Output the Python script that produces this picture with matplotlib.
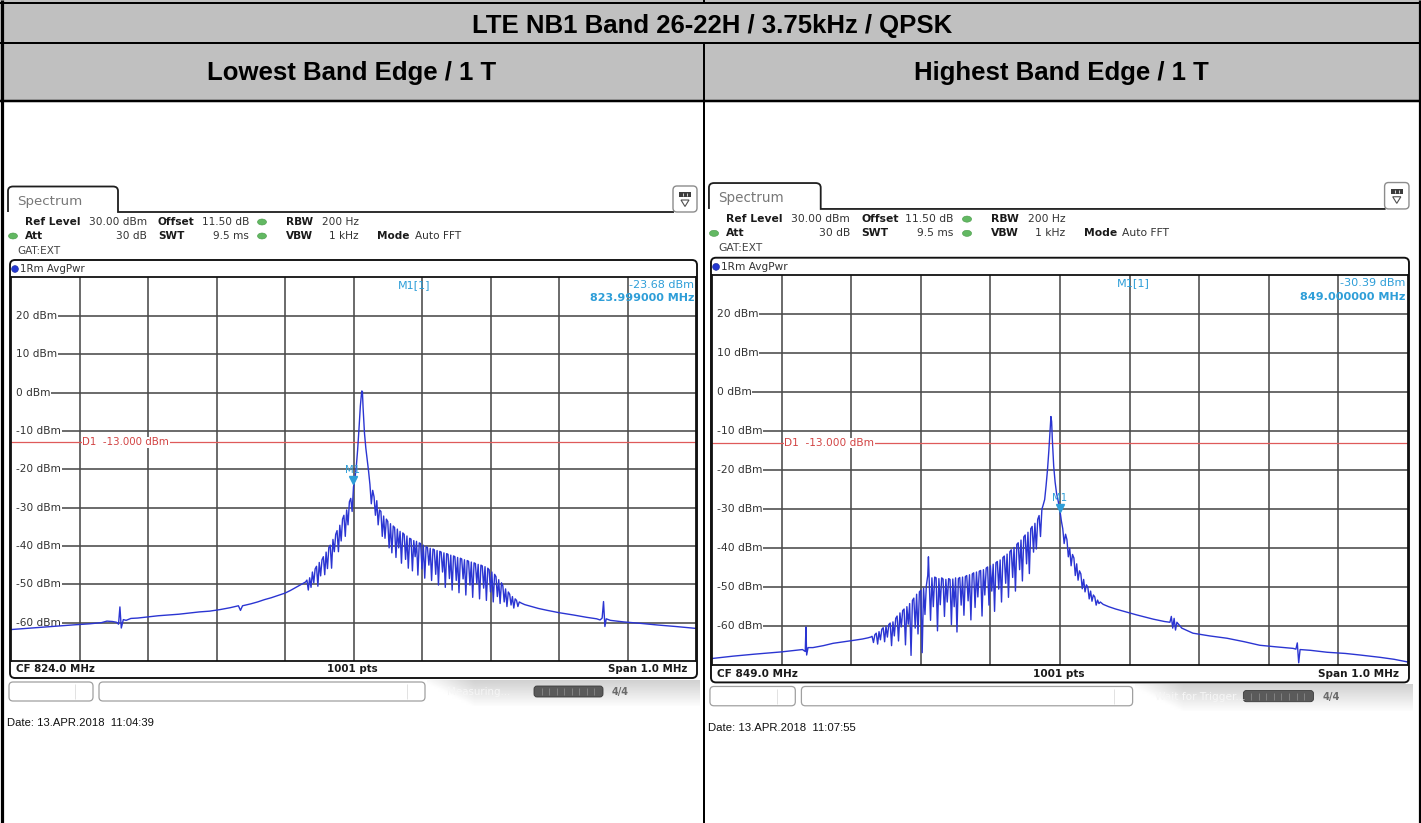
import numpy as np
import matplotlib
matplotlib.use("Agg")
import matplotlib.pyplot as plt
from matplotlib.patches import FancyBboxPatch, Rectangle, Ellipse, PathPatch, Polygon, Circle
from matplotlib.path import Path
import matplotlib.transforms as mtransforms

# ---------------- data ----------------
TITLE = "LTE NB1 Band 26-22H / 3.75kHz / QPSK"
PANEL_TITLES = ["Lowest Band Edge / 1 T", "Highest Band Edge / 1 T"]
CENTER_MHZ = [824.0, 849.0]
SPAN_MHZ = 1.0
N_POINTS = 1001
REF_LEVEL_DBM = 30.00
OFFSET_DB = 11.50
RBW_TXT = "200 Hz"
VBW_TXT = "1 kHz"
ATT_TXT = "30 dB"
SWT_TXT = "9.5 ms"
DISPLAY_LINE_DBM = -13.0
MARKER_MHZ = [823.999, 849.000]
MARKER_DBM = [-23.68, -30.39]
DATES = ["13.APR.2018  11:04:39", "13.APR.2018  11:07:55"]
STATUS = ["Measuring...", "Wait for Trigger..."]
Y_TICKS = [20, 10, 0, -10, -20, -30, -40, -50, -60]
Y_MIN, Y_MAX = -70, 30

# trace of the lowest band edge plot (offset from CF in kHz, level in dBm)
LOW_KHZ = [-500, -470, -440, -410, -385, -368, -360, -352, -346, -343, -341, -339, -336, -332,
           -325, -315, -300, -285, -270, -255, -240, -225, -210, -195, -180, -168, -165, -162,
           -150, -140, -130, -120, -110, -100, -92, -84, -76,
           -70, -68, -66, -64, -62, -60, -58, -56, -54, -52, -50, -48, -46, -44, -42, -40, -38,
           -36, -34, -32, -30, -28, -26, -24, -22, -20, -18, -16, -14, -12, -10, -8, -6, -4, -2,
           0, 2, 4, 6, 8, 10, 12, 13, 14, 16, 18, 20,
           22, 24, 26, 28, 30, 32, 34, 36, 38, 40, 42, 44, 46, 48, 50, 52, 54, 56, 58, 60, 62,
           64, 66, 68, 70, 72, 74, 76, 78, 80, 82, 84, 86, 88, 90, 92, 94, 96, 98, 100, 102, 104,
           106, 108, 110, 112, 114, 116, 118, 120, 122, 124, 126, 128, 130, 132, 134, 136, 138,
           140, 142, 144, 146, 148, 150, 152, 154, 156, 158, 160, 162, 164, 166, 168, 170, 172,
           174, 176, 178, 180, 182, 184, 186, 188, 190, 192, 194, 196, 198, 200, 202, 204, 206,
           208, 210, 212, 214, 216, 218, 220, 222, 224, 226, 228, 230, 232, 234, 236, 238, 240,
           242, 245, 250, 260, 270, 283, 300, 321, 340, 355, 360, 363, 365, 367, 369, 375, 394,
           420, 443, 470, 500]
LOW_DBM = [-61.8, -61.4, -61.0, -60.6, -60.3, -60.0, -59.6, -59.7, -59.9, -60.4, -55.9, -61.4,
           -59.2, -59.4, -58.9, -58.8, -58.5, -58.2, -58.0, -57.8, -57.5, -57.2, -57.0, -56.6,
           -56.1, -55.6, -56.8, -55.6, -55.1, -54.6, -54.0, -53.5, -52.9, -52.3, -51.6, -50.8,
           -50.0,
           -49.4, -48.9, -51.5, -48.3, -50.8, -46.8, -49.6, -46.0, -45.3, -50.5, -44.3, -47.8,
           -43.6, -42.8, -47.5, -41.6, -45.9, -40.4, -39.8, -45.8, -38.3, -41.5, -37.0, -36.0,
           -41.5, -34.6, -38.7, -33.0, -32.0, -37.5, -30.6, -34.5, -28.5, -27.6, -31.0,
           -24.6, -22.5, -19.5, -15.0, -9.5, -3.5, 0.4, 0.3, -4.0, -10.5, -14.5, -17.5,
           -20.5, -24.0, -29.0, -25.5, -27.2, -32.0, -28.2, -34.5, -30.6, -31.0, -37.5, -32.2,
           -38.0, -33.0, -33.6, -40.5, -34.2, -41.8, -34.8, -35.2, -43.0, -35.6, -40.5, -36.2,
           -44.5, -36.6, -37.0, -43.5, -37.4, -45.8, -38.0, -38.2, -46.5, -38.6, -42.8, -38.8,
           -47.6, -39.2, -39.4, -46.0, -39.8, -48.4, -40.2, -40.4, -45.0, -40.6, -49.0, -40.8,
           -41.0, -47.4, -41.2, -50.2, -41.4, -41.6, -46.8, -41.8, -50.8, -42.0, -42.2, -48.5,
           -42.4, -51.5, -42.6, -42.8, -49.0, -43.0, -52.2, -43.2, -43.4, -48.6, -43.6, -52.8,
           -43.8, -44.0, -50.2, -44.2, -53.4, -44.4, -44.6, -49.8, -44.8, -53.8, -45.0, -45.2,
           -51.0, -45.4, -54.2, -45.8, -46.2, -52.0, -46.8, -54.6, -47.4, -48.0, -53.2, -48.8,
           -55.0, -49.6, -50.4, -54.6, -51.2, -55.8, -52.0, -52.6, -55.4, -53.2, -56.2, -53.8,
           -54.2, -55.8, -54.6, -54.9, -55.3, -55.8, -56.3, -56.8, -57.4, -58.0, -58.6, -59.0,
           -59.3, -58.8, -54.5, -61.0, -59.0, -59.4, -59.8, -60.2, -60.6, -61.0, -61.5]

# trace of the highest band edge plot (offset from CF in kHz, level in dBm)
HIGH_KHZ = [-500, -470, -440, -400, -380, -370, -366, -365, -364, -362, -355, -340, -326, -310,
            -295, -284, -276,
            -272, -270, -268, -266, -264, -262, -260, -258, -256, -254, -252, -250, -248, -246,
            -244, -242, -240, -238, -236, -234, -232, -230, -228, -226, -224, -222, -220, -218,
            -216, -214, -212, -210, -208, -206, -204, -202, -200, -198, -196, -194, -192, -190,
            -189, -188, -186, -184, -182, -180, -178, -176, -174, -172, -170, -168, -166, -164,
            -162, -160, -158, -156, -154, -152, -150, -148, -146, -144, -142, -140, -138, -136,
            -134, -132, -130, -128, -126, -124, -122, -120, -118, -116, -114, -112, -110, -108,
            -106, -104, -102, -100, -98, -96, -94, -92, -90, -88, -86, -84, -82, -80, -78, -76,
            -74, -72, -70, -68, -66, -64, -62, -60, -58, -56, -54, -52, -50, -48, -46, -44, -42,
            -40, -38, -36, -34, -32, -30, -28, -26, -24, -22,
            -20, -18, -16, -14, -13, -12, -11, -9, -7, -5, -3, -1,
            0, 2, 4, 6, 8, 10, 12, 14, 16, 18, 20, 22, 24, 26, 28, 30, 32, 34, 36, 38, 40, 42,
            44, 46, 48, 50, 52, 54, 56, 58, 62,
            70, 80, 90, 100, 110, 125, 134, 150, 158, 160, 162, 164, 166, 168, 175, 191, 215,
            240, 265, 287, 310, 335, 339, 341, 343, 345, 360, 384, 410, 431, 460, 480, 500]
HIGH_DBM = [-68.3, -67.7, -67.2, -66.6, -66.2, -66.0, -66.5, -60.2, -67.4, -65.5, -65.5, -65.0,
            -64.4, -64.0, -63.6, -63.3, -63.0,
            -62.8, -62.6, -64.2, -62.2, -61.8, -64.6, -61.4, -63.5, -60.8, -60.4, -64.0, -60.0,
            -62.8, -59.6, -59.2, -65.0, -58.9, -62.5, -58.0, -57.4, -63.8, -56.6, -60.2, -56.0,
            -55.6, -64.8, -55.0, -59.5, -54.2, -67.5, -53.4, -52.8, -60.5, -51.8, -62.0, -51.2,
            -50.8, -66.8, -50.2, -57.0, -49.6, -47.0,
            -42.2, -47.5, -58.5, -47.6, -55.0, -47.4, -47.6, -61.2, -47.8, -54.5, -47.6, -47.9,
            -57.5, -48.0, -53.8, -47.8, -48.0, -59.6, -47.9, -55.0, -47.6, -61.5, -47.8, -47.5,
            -54.6, -47.4, -57.2, -47.3, -47.0, -53.5, -46.8, -58.4, -46.6, -46.3, -55.2, -46.1,
            -52.5, -45.9, -45.7, -57.4, -45.5, -52.0, -45.1, -44.8, -54.6, -44.5, -51.0, -44.1,
            -56.2, -43.7, -43.4, -50.5, -43.0, -53.8, -42.4, -42.0, -49.0, -41.5, -52.6, -40.9,
            -40.4, -47.5, -39.8, -51.0, -39.0, -38.6, -45.5, -37.9, -48.4, -37.1, -36.6, -44.0,
            -35.9, -46.5, -35.0, -34.4, -41.0, -33.6, -40.2, -32.6, -31.6, -37.0, -30.0, -28.8,
            -27.5,
            -24.0, -20.0, -15.0, -9.0, -6.2, -7.5, -12.0, -19.0, -23.0, -25.8, -27.5, -29.5,
            -30.4, -33.0, -35.0, -38.8, -36.4, -37.8, -42.2, -40.0, -44.5, -41.6, -42.5, -47.0,
            -44.0, -48.2, -45.8, -46.6, -50.4, -48.0, -51.2, -49.4, -50.0, -53.0, -51.0, -53.6,
            -52.0, -52.5, -54.6, -53.3, -54.2, -53.8, -54.4,
            -55.0, -55.6, -56.1, -56.6, -57.1, -57.8, -58.2, -58.8, -59.0, -57.5, -60.5, -58.0,
            -61.0, -59.0, -60.5, -61.8, -62.5, -63.1, -64.0, -64.9, -65.3, -65.7, -65.9, -64.3,
            -69.4, -66.0, -66.2, -66.7, -67.0, -67.4, -68.0, -68.5, -69.2]

TRACES_KHZ = [LOW_KHZ, HIGH_KHZ]
TRACES_DBM = [LOW_DBM, HIGH_DBM]

# ---------------- figure ----------------
W, H = 1421, 823
fig = plt.figure(figsize=(W / 100, H / 100), dpi=100)
bg = fig.add_axes([0, 0, 1, 1], zorder=0)
bg.set_xlim(0, W)
bg.set_ylim(H, 0)
bg.axis("off")
PX = 0.72  # points per pixel

TABLE_FONT = ["Liberation Sans", "DejaVu Sans"]
RS_FONT = ["DejaVu Sans"]


def hline(y, x0, x1, lw, color="black", ax=bg, z=5):
    ax.plot([x0, x1], [y, y], color=color, lw=lw * PX, solid_capstyle="butt", zorder=z)


def vline(x, y0, y1, lw, color="black", ax=bg, z=5):
    ax.plot([x, x], [y0, y1], color=color, lw=lw * PX, solid_capstyle="butt", zorder=z)


# table
bg.add_patch(Rectangle((0, 0), W, 101, facecolor="#c0c0c0", edgecolor="none", zorder=1))
hline(3, 0, W, 2)
hline(42.5, 0, W, 2)
hline(101, 0, W, 2.5)
vline(1.5, 0, H, 3.2)
vline(W - 1.5, 0, H, 3.2)
vline(703.5, 42, H, 2)
vline(703.5, 0, 3, 2)
bg.text(712, 26, TITLE, ha="center", va="center", fontsize=18.5, fontweight="bold",
        family=TABLE_FONT, zorder=6)
bg.text(352, 73, PANEL_TITLES[0], ha="center", va="center", fontsize=18.5, fontweight="bold",
        family=TABLE_FONT, zorder=6)
bg.text(1061, 73, PANEL_TITLES[1], ha="center", va="center", fontsize=18.5, fontweight="bold",
        family=TABLE_FONT, zorder=6)

MARK_COL = "#2e9ed8"
TRACE_COL = "#2b35d2"
GRID_COL = "#4a4a4a"
LINE_COL = "#df5a5a"


def panel(i, ox, oy, s, m1_frac):
    def P(x, y):
        return (ox + s * (x - 8), oy + s * (y - 184))

    cf = CENTER_MHZ[i]
    fsz = 7.6 * s

    # Spectrum tab
    V = [P(8, 212), P(8, 191), P(8, 186.5), P(13, 186.5), P(113, 186.5), P(118, 186.5),
         P(118, 191), P(118, 212), P(674, 212)]
    C = [Path.MOVETO, Path.LINETO, Path.CURVE3, Path.CURVE3, Path.LINETO, Path.CURVE3,
         Path.CURVE3, Path.LINETO, Path.LINETO]
    bg.add_patch(PathPatch(Path(V, C), fill=False, edgecolor="#1e1e1e", lw=1.3, zorder=4))
    x, y = P(17, 201)
    bg.text(x, y, "Spectrum", fontsize=9.6 * s, color="#787878", va="center", ha="left",
            family=RS_FONT, zorder=6)

    # icon
    x, y = P(673, 186)
    bg.add_patch(FancyBboxPatch((x, y), 24 * s, 26 * s, boxstyle="round,pad=0,rounding_size=4",
                                fc="white", ec="#8c8c8c", lw=1.0, zorder=4))
    x, y = P(679, 192)
    bg.add_patch(Rectangle((x, y), 12 * s, 5 * s, fc="#3c3c3c", ec="none", zorder=5))
    for k in (1, 2):
        xx, _ = P(679 + 4 * k, 0)
        vline(xx, y + 1, y + 4, 1, color="#d0d0d0", z=6)
    bg.add_patch(Polygon([P(681, 200), P(689, 200), P(685, 206.5)], closed=True, fill=False,
                         ec="#505050", lw=0.8, zorder=5))

    # info lines
    def txt(xp, yp, t, bold=False, ha="left", color="#1a1a1a", size=fsz):
        x, y = P(xp, yp)
        bg.text(x, y, t, fontsize=size, fontweight="bold" if bold else "normal", ha=ha,
                va="center", color=color, family=RS_FONT, zorder=6)

    txt(25, 222, "Ref Level", True)
    txt(147, 222, f"{REF_LEVEL_DBM:.2f} dBm", ha="right", color="#333333")
    txt(158, 222, "Offset", True)
    txt(249, 222, f"{OFFSET_DB:.2f} dB", ha="right", color="#333333")
    txt(286, 222, "RBW", True)
    txt(359, 222, RBW_TXT, ha="right", color="#333333")
    txt(25, 236, "Att", True)
    txt(147, 236, ATT_TXT, ha="right", color="#333333")
    txt(158, 236, "SWT", True)
    txt(249, 236, SWT_TXT, ha="right", color="#333333")
    txt(286, 236, "VBW", True)
    txt(359, 236, VBW_TXT, ha="right", color="#333333")
    txt(377, 236, "Mode", True)
    txt(415, 236, "Auto FFT", color="#333333")
    txt(17, 250.5, "GAT:EXT", color="#444444")
    for (gx, gy) in [(262, 222), (13, 236), (262, 236)]:
        x, y = P(gx, gy)
        bg.add_patch(Ellipse((x, y), 9 * s, 6 * s, fc="#62b862", ec="#4a9a4a", lw=0.4, zorder=5))

    # trace box
    x, y = P(10, 260)
    bg.add_patch(FancyBboxPatch((x, y), 687 * s, 418 * s, boxstyle="round,pad=0,rounding_size=5",
                                fc="none", ec="#111111", lw=1.9 * PX, zorder=7))
    x, y = P(15, 269)
    bg.add_patch(Circle((x, y), 3.4 * s, fc="#2438d0", ec="#1a2a9a", lw=0.4, zorder=5))
    txt(20, 269, "1Rm AvgPwr", color="#333333", size=7.4 * s)

    # bottom label row
    txt(16, 669.5, f"CF {cf:.1f} MHz", True, size=7.4 * s)
    txt(352.5, 669.5, f"{N_POINTS} pts", True, ha="center", size=7.4 * s)
    txt(687, 669.5, f"Span {SPAN_MHZ:.1f} MHz", True, ha="right", size=7.4 * s)

    # status bar
    x, y = P(9, 682)
    bg.add_patch(FancyBboxPatch((x, y), 84 * s, 19 * s, boxstyle="round,pad=0,rounding_size=4",
                                fc="white", ec="#a0a0a0", lw=0.9, zorder=4))
    x, y = P(99, 682)
    bg.add_patch(FancyBboxPatch((x, y), 326 * s, 19 * s, boxstyle="round,pad=0,rounding_size=4",
                                fc="white", ec="#a0a0a0", lw=0.9, zorder=4))
    for dx in (75, 407):
        xx, y0 = P(dx, 684)
        _, y1 = P(dx, 699)
        vline(xx, y0, y1, 1, color="#e2e2e2", z=5)
    x0, y0 = P(427, 680)
    x1, y1 = P(700, 706)
    gy = np.linspace(0, 1, 30)[:, None]
    gx = np.linspace(0, 1, 60)[None, :]
    grad = 0.82 + 0.17 * gy + 0.15 * np.clip(1 - gx * 6, 0, 1)
    bg.imshow(np.clip(grad, 0, 1), cmap="gray", vmin=0, vmax=1, extent=(x0, x1, y1, y0),
              aspect="auto", zorder=2, interpolation="bilinear")
    txt(447, 692, STATUS[i], color="#f6f6f6", size=7.4 * s)
    x, y = P(534, 686)
    bg.add_patch(FancyBboxPatch((x, y), 69 * s, 11 * s, boxstyle="round,pad=0,rounding_size=3",
                                fc="#5a5a5a", ec="#3a3a3a", lw=0.6, zorder=5))
    for k in range(1, 9):
        xx, yy = P(534 + 7.5 * k, 688)
        vline(xx, yy, yy + 7 * s, 0.8, color="#8a8a8a", z=6)
    txt(612, 692, "4/4", True, color="#6a6a6a", size=7 * s)

    # date
    x, y = P(7, 723)
    bg.text(x, y, "Date: " + DATES[i], fontsize=8.1 * s, va="center", ha="left",
            family=TABLE_FONT, color="#111111", zorder=6)

    # ---------- data axes ----------
    l, t = P(11, 277.5)
    r, b = P(696, 661)
    ax = fig.add_axes([l / W, 1 - b / H, (r - l) / W, (b - t) / H], zorder=3)
    ax.set_facecolor("white")
    f0 = cf - SPAN_MHZ / 2
    f1 = cf + SPAN_MHZ / 2
    ax.set_xlim(f0, f1)
    ax.set_ylim(Y_MIN, Y_MAX)
    ax.set_xticks([])
    ax.set_yticks([])
    for sp in ax.spines.values():
        sp.set_linewidth(1.3)
        sp.set_color("#111111")
        sp.set_zorder(4)
    for k in range(1, 10):
        ax.axvline(f0 + k * SPAN_MHZ / 10, color=GRID_COL, lw=1.15, zorder=1)
    blend = mtransforms.blended_transform_factory(ax.transAxes, ax.transData)
    for v in Y_TICKS:
        ax.axhline(v, xmin=0.012, color=GRID_COL, lw=1.15, zorder=1)
        ax.text(0.007, v, f"{v} dBm", transform=blend, fontsize=7.6 * s, va="center", ha="left",
                color="#333333", family=RS_FONT, zorder=1.5,
                bbox=dict(fc="white", ec="none", pad=0.6))
    # display line
    ax.axhline(DISPLAY_LINE_DBM, color=LINE_COL, lw=0.9, zorder=2)
    ax.text(0.104, DISPLAY_LINE_DBM, f"D1  {DISPLAY_LINE_DBM:.3f} dBm", transform=blend,
            fontsize=7.4 * s, va="center", ha="left", color="#d24444", family=RS_FONT, zorder=2.2,
            bbox=dict(fc="white", ec="none", pad=0.3))
    # trace
    fk = np.array(TRACES_KHZ[i]) / 1000.0 + cf
    ax.plot(fk, TRACES_DBM[i], color=TRACE_COL, lw=1.0, zorder=3)
    # marker
    tri = mtransforms.offset_copy(ax.transData, fig=fig, x=0, y=3.2, units="dots")
    ax.plot([MARKER_MHZ[i]], [MARKER_DBM[i]], marker="v", ms=5.5, color=MARK_COL, transform=tri,
            zorder=5, clip_on=False)
    lab = mtransforms.offset_copy(ax.transData, fig=fig, x=0, y=13, units="dots")
    ax.text(MARKER_MHZ[i], MARKER_DBM[i], "M1", transform=lab, fontsize=7.2 * s, color=MARK_COL,
            ha="center", va="center", family=RS_FONT, zorder=5)
    ax.text(m1_frac, 1 - 0.02, "M1[1]", transform=ax.transAxes, fontsize=8 * s, color=MARK_COL,
            ha="left", va="center", family=RS_FONT, zorder=5)
    ax.text(0.997, 1 - 0.02, f"{MARKER_DBM[i]:.2f} dBm", transform=ax.transAxes, fontsize=8 * s,
            color=MARK_COL, ha="right", va="center", family=RS_FONT, zorder=5)
    ax.text(0.997, 1 - 0.054, f"{MARKER_MHZ[i]:.6f} MHz", transform=ax.transAxes, fontsize=8 * s,
            color=MARK_COL, ha="right", va="center", family=RS_FONT, fontweight="bold", zorder=5)
    return ax


panel(0, 8.0, 184.0, 1.0, 0.565)
panel(1, 708.95, 180.5, 1.016, 0.582)

fig.savefig("out.png", dpi=100)
